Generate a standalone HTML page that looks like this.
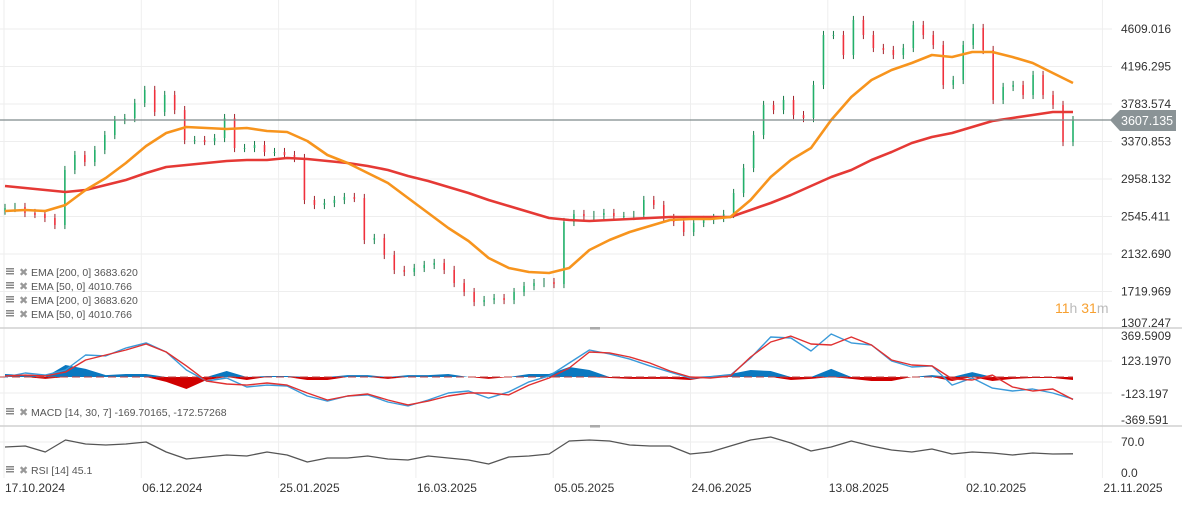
<!DOCTYPE html>
<html><head><meta charset="utf-8"><style>
html,body{margin:0;padding:0;background:#fff;}
svg{display:block;font-family:"Liberation Sans",sans-serif;}
</style></head><body>
<svg id="chart" width="1182" height="505" xmlns="http://www.w3.org/2000/svg">
<g id="grid"></g>
<g id="macdg"></g>
<g id="rsig"></g>
<g id="candles"></g>
<g id="emas"></g>
<line x1="0" y1="120" x2="1112" y2="120" stroke="#7f8a8c" stroke-width="1.2"/>
<polygon points="1110,120 1120,110 1176,110 1176,131 1120,131" fill="#8a9396"/>
<text x="1121" y="125" font-size="12.5" fill="#fff">3607.135</text>
<text x="1055" y="313" font-size="14"><tspan fill="#f7a030">11</tspan><tspan fill="#bbb">h </tspan><tspan fill="#f7a030">31</tspan><tspan fill="#bbb">m</tspan></text>
<g id="legend" font-size="10.5" fill="#555"></g>
<g id="axes" font-size="12" fill="#333"></g>
</svg>
<script>
const closes=[2639,2650,2584,2573,2529,2452,3057,3222,3145,3277,3442,3607,3629,3795,3938,3696,3883,3717,3387,3387,3376,3409,3629,3299,3299,3332,3255,3255,3222,3189,2727,2672,2694,2727,2760,2749,2287,2309,2122,1957,1935,1979,2012,2034,1957,1813,1714,1604,1626,1648,1626,1714,1780,1813,1824,1802,2485,2573,2551,2562,2584,2551,2551,2562,2727,2672,2529,2485,2375,2474,2507,2529,2573,2804,3079,3442,3773,3717,3828,3662,3629,3993,4543,4543,4323,4708,4543,4400,4378,4323,4400,4653,4543,4433,3993,4048,4433,4620,4378,3828,3971,3993,3883,4103,3883,3773,3365,3607];
const ema50=[2606,2617,2606,2672,2837,2969,3134,3321,3464,3530,3519,3508,3519,3486,3475,3376,3222,3134,3024,2914,2749,2584,2419,2276,2089,1979,1935,1924,1979,2177,2287,2375,2441,2507,2518,2518,2540,2727,2980,3167,3299,3607,3861,4048,4158,4235,4323,4301,4356,4356,4301,4235,4125,4015];
const ema200=[2881,2859,2837,2815,2837,2892,2947,3024,3090,3112,3134,3156,3167,3167,3189,3178,3156,3134,3101,3057,2991,2936,2870,2804,2727,2661,2595,2529,2507,2496,2507,2518,2529,2540,2540,2540,2540,2617,2694,2782,2881,2980,3057,3167,3255,3354,3420,3464,3530,3596,3629,3662,3695,3695];
const macdLine=[0,31,15,54,169,162,223,262,192,54,-31,-8,-77,-62,-69,-146,-185,-146,-138,-192,-223,-177,-123,-108,-162,-115,-38,8,108,208,177,138,85,38,-8,0,15,146,308,300,200,331,262,246,123,77,85,-62,-8,-85,-108,-92,-123,-170];
const signalLine=[8,15,8,38,131,169,208,254,192,85,-31,-54,-62,-46,-62,-123,-177,-146,-131,-177,-215,-185,-146,-123,-123,-138,-62,-8,69,192,185,154,108,46,0,-8,8,154,269,315,254,246,308,246,131,92,85,-15,-23,15,-77,-108,-92,-173];
const histogram=[23,15,-15,92,62,15,23,23,-38,-92,-23,46,-23,8,8,-23,-23,15,15,-15,15,15,23,0,-15,0,23,23,77,54,-8,-15,-15,-15,-23,8,23,54,46,-23,-15,62,-15,-31,-31,0,15,-31,38,-31,-15,-8,-8,-23];
const rsi=[59.4,61.6,48.8,74.3,65.8,63.7,65.8,70.1,48.8,34,38.2,42.5,40.3,48.8,42.5,27.6,36.1,36.1,40.3,34,31.8,40.3,36.1,31.8,23.4,38.2,40.3,44.6,72.2,74.3,72.2,63.7,61.6,61.6,44.6,48.8,61.6,74.3,80.7,67.9,51,59.4,72.2,61.6,53.1,48.8,55.2,44.6,48.8,46.7,42.5,46.7,44.6,45.1];
const priceTicks=["4609.016","4196.295","3783.574","3370.853","2958.132","2545.411","2132.690","1719.969","1307.247"];
const macdTicks=["369.5909","123.1970","-123.197","-369.591"];
const rsiTicks=["70.0","0.0"];
const dateTicks=["17.10.2024","06.12.2024","25.01.2025","16.03.2025","05.05.2025","24.06.2025","13.08.2025","02.10.2025","21.11.2025"];
const legendItems=["EMA [200,  0] 3683.620","EMA [50,  0] 4010.766","EMA [200,  0] 3683.620","EMA [50,  0] 4010.766"];

const NS="http://www.w3.org/2000/svg";
function mk(tag,attrs,parent){const e=document.createElementNS(NS,tag);for(const k in attrs)e.setAttribute(k,attrs[k]);parent.appendChild(e);return e;}
const yP=v=>29+(4609.016-v)*37.5/412.721;
const yM=v=>377-v*0.13;
const yR=v=>475-v*0.471;
const xC=i=>5+i*(1068/(closes.length-1));
const xS=(k,n)=>5+k*(1068/(n-1));
const G=document.getElementById('grid'),A=document.getElementById('axes');
priceTicks.forEach((t,i)=>{const v=parseFloat(t),y=yP(v);
 if(i<priceTicks.length-1){const l=mk('line',{x1:0,x2:1112,y1:y,y2:y,stroke:'#eeeeee'},G);
 
 }
 const tx=mk('text',{x:1121,y:(i==priceTicks.length-1?y-2:y+4)},A);tx.textContent=t;
 
 });
dateTicks.forEach((t,i)=>{const x=4+i*137.3;
 const l=mk('line',{x1:x,x2:x,y1:0,y2:478,stroke:'#eeeeee'},G);
 
 
 const tx=mk('text',{x:x+1,y:492},A);tx.textContent=t;
 
 });
[361,393,442].forEach(y=>{const l=mk('line',{x1:0,x2:1112,y1:y,y2:y,stroke:'#eeeeee'},G);
 
 });
[328,426].forEach(y=>{const l=mk('line',{x1:0,x2:1182,y1:y,y2:y,stroke:'#d0d0d0','stroke-width':1.5},G);
 
 
 const h=mk('rect',{x:590,y:y-1,width:10,height:2.5,fill:'#aaa'},G);
 
 });
const mY=[336,361,394,420];
macdTicks.forEach((t,i)=>{const tx=mk('text',{x:1121,y:mY[i]+4},A);tx.textContent=t;
 
 });
rsiTicks.forEach((t,i)=>{const tx=mk('text',{x:1121,y:i===0?yR(70)+4:yR(0)+2},A);tx.textContent=t;
 
 });
const C=document.getElementById('candles');
closes.forEach((c,i)=>{const o=i?closes[i-1]:c-30;const up=c>=o;const x=xC(i);
 const hi=Math.max(o,c)+45,lo=Math.min(o,c)-45;
 const g=mk('g',{},C);
 
 
 mk('line',{x1:x,x2:x,y1:yP(hi),y2:yP(lo),stroke:up?'#157a48':'#a3202a','stroke-width':1},g);
 mk('line',{x1:x,x2:x,y1:yP(o),y2:yP(c)+(Math.abs(o-c)<15?1:0),stroke:up?'#22b06a':'#f0303c','stroke-width':1.6},g);});
const E=document.getElementById('emas');
function poly(arr,yf,color,w,par,name){const pts=arr.map((v,k)=>xS(k,arr.length).toFixed(1)+','+yf(v).toFixed(1)).join(' ');
 const p=mk('polyline',{points:pts,fill:'none',stroke:color,'stroke-width':w,'stroke-linejoin':'round'},par);
 
 }
poly(ema200,yP,'#e53935',2.6,E,'ema-200-line');
poly(ema50,yP,'#f7941d',2.6,E,'ema-50-line');
const M=document.getElementById('macdg');
// histogram drawn as filled areas (positive blue, negative red)
function histArea(sign,color,name){const n=histogram.length;let pts=xS(0,n).toFixed(1)+','+yM(0);
 histogram.forEach((v,k)=>{const vv=sign>0?Math.max(0,v):Math.min(0,v);pts+=' '+xS(k,n).toFixed(1)+','+yM(vv).toFixed(1);});
 pts+=' '+xS(n-1,n).toFixed(1)+','+yM(0);
 const p=mk('polygon',{points:pts,fill:color},M);
 
 }
histArea(1,'#0a78c0','macd-histogram-positive');
histArea(-1,'#d00000','macd-histogram-negative');
const z=mk('line',{x1:0,x2:1073,y1:yM(0),y2:yM(0),stroke:'#c04040','stroke-width':1,'stroke-dasharray':'8 4'},M);


poly(macdLine,yM,'#3a9ad9',1.4,M,'macd-line');
poly(signalLine,yM,'#e03030',1.4,M,'signal-line');
const R=document.getElementById('rsig');
poly(rsi,yR,'#555',1.3,R,'rsi-line');
const L=document.getElementById('legend');
function legendRow(y,txt,name){const g=mk('g',{},L);
 
 
 for(let j=0;j<3;j++)mk('rect',{x:6,y:y-8+j*2.5,width:8,height:1.5,fill:'#888'},g);
 const xx=mk('text',{x:19,y:y,'font-size':'11',fill:'#999'},g);xx.textContent='✖';
 const t=mk('text',{x:31,y:y},g);t.textContent=txt;}
legendItems.forEach((t,i)=>legendRow(276+i*14,t,'legend-entry'));
legendRow(416,'MACD [14, 30, 7] -169.70165,  -172.57268','macd-legend');
legendRow(474,'RSI [14] 45.1','rsi-legend');
</script>
</body></html>
